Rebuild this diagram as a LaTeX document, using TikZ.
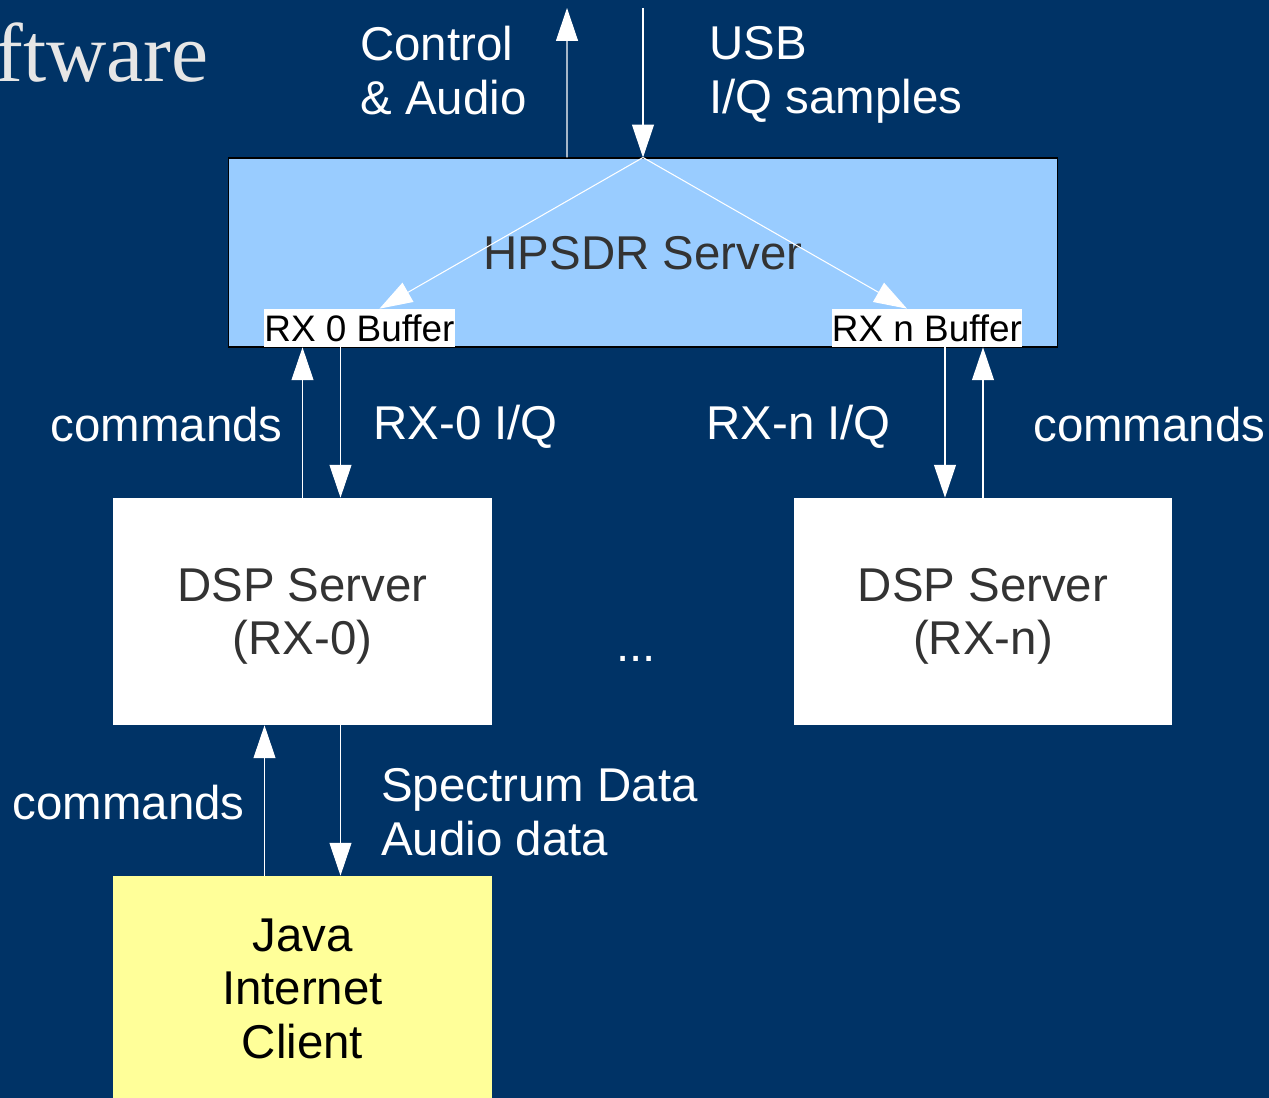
\documentclass[tikz,border=0pt]{standalone}
\usepackage{fontspec}
\setmainfont{Liberation Sans}
\newfontfamily\titlefont{Liberation Serif}
\usetikzlibrary{arrows.meta}
\definecolor{slidebg}{RGB}{0,51,102}
\definecolor{serverblue}{RGB}{153,204,255}
\definecolor{clientyellow}{RGB}{255,255,153}
\definecolor{boxtext}{RGB}{51,51,51}
\definecolor{titlegrey}{RGB}{230,230,230}
\tikzset{
	flow/.style={draw=white, line width=0.6pt, -{Triangle[length=18.7pt,width=12.5pt,fill=white]}},
	lbl/.style={text=white, inner sep=0pt, font=\fontsize{27}{30.6}\selectfont},
	block/.style={inner sep=0pt, align=center, minimum width=7.58cm, font=\fontsize{27}{30.6}\selectfont},
	buffer/.style={fill=white, text=black, inner sep=0pt, minimum height=0.76cm, font=\fontsize{21}{24}\selectfont}
}

\begin{document}
\begin{tikzpicture}[x=0.02cm, y=-0.02cm]
		%%%%% START %%%%%
		
		\useasboundingbox (0, 0) rectangle (1269, 1098);
		\clip (0, 0) rectangle (1269, 1098);
		\fill[slidebg] (0, 0) rectangle (1269, 1098);
		
		\node[anchor=base east, inner sep=0pt, text=titlegrey, font=\titlefont\fontsize{47.5}{52}\selectfont] (title) at (209, 82) {Software};
		
		\node[block, draw=black, line width=0.6pt, fill=serverblue, text=boxtext, minimum width=16.6cm, minimum height=3.78cm, text depth=0pt] (hpsdr) at (643, 252.5) {HPSDR Server};
		\node[buffer, minimum width=3.82cm] (buf0) at (359.5, 328) {RX 0 Buffer};
		\node[buffer, minimum width=3.8cm] (bufn) at (927, 328) {RX n Buffer};
		
		\node[block, fill=white, text=boxtext, minimum height=4.54cm, text depth=0pt] (dsp0) at (302.5, 611.5) {DSP Server\\(RX-0)};
		\node[block, fill=white, text=boxtext, minimum height=4.54cm, text depth=0pt] (dspn) at (983, 611.5) {DSP Server\\(RX-n)};
		\node[lbl, anchor=base] (dots) at (636, 661) {...};
		
		\node[block, fill=clientyellow, text=black, minimum height=4.5cm, text depth=0pt] (java) at (302.5, 988.5) {Java\\Internet\\Client};
		
		\node[lbl, anchor=north west, align=left] (ctrl) at (360, 26) {Control\\\& Audio};
		\node[lbl, anchor=north west, align=left] (usb) at (709, 26) {USB\\I/Q samples};
		\node[lbl, anchor=base east] (cmd0) at (283, 441) {commands};
		\node[lbl, anchor=base west] (iq0) at (373, 439) {RX-0 I/Q};
		\node[lbl, anchor=base west] (iqn) at (706, 439) {RX-n I/Q};
		\node[lbl, anchor=base west] (cmdn) at (1033, 441) {commands};
		\node[lbl, anchor=base east] (cmdj) at (245, 819) {commands};
		\node[lbl, anchor=north west, align=left] (spec) at (381, 768) {Spectrum Data\\Audio data};
		
		% USB link
		\coordinate (ctrlend) at (567, 8);
		\coordinate (usbstart) at (643, 8);
		\draw[flow] ([xshift=-1.52cm]hpsdr.north) -- (ctrlend);
		\draw[flow] (usbstart) -- (hpsdr.north);
		\draw[flow] (hpsdr.north) -- ([xshift=0.4cm]buf0.north);
		\draw[flow] (hpsdr.north) -- ([xshift=-0.4cm]bufn.north);
		
		% buffers <-> DSP servers
		\draw[flow] (dsp0.north) -- (dsp0.north |- buf0.south);
		\draw[flow] ([xshift=0.76cm]dsp0.north |- buf0.south) -- ([xshift=0.76cm]dsp0.north);
		\draw[flow] ([xshift=-0.76cm]dspn.north |- bufn.south) -- ([xshift=-0.76cm]dspn.north);
		\draw[flow] (dspn.north) -- (dspn.north |- bufn.south);
		
		% DSP server <-> client
		\draw[flow] ([xshift=-0.76cm]java.north) -- ([xshift=-0.76cm]dsp0.south);
		\draw[flow] ([xshift=0.76cm]dsp0.south) -- ([xshift=0.76cm]java.north);
		
		%%%%% END %%%%%
	\end{tikzpicture}
\end{document}
